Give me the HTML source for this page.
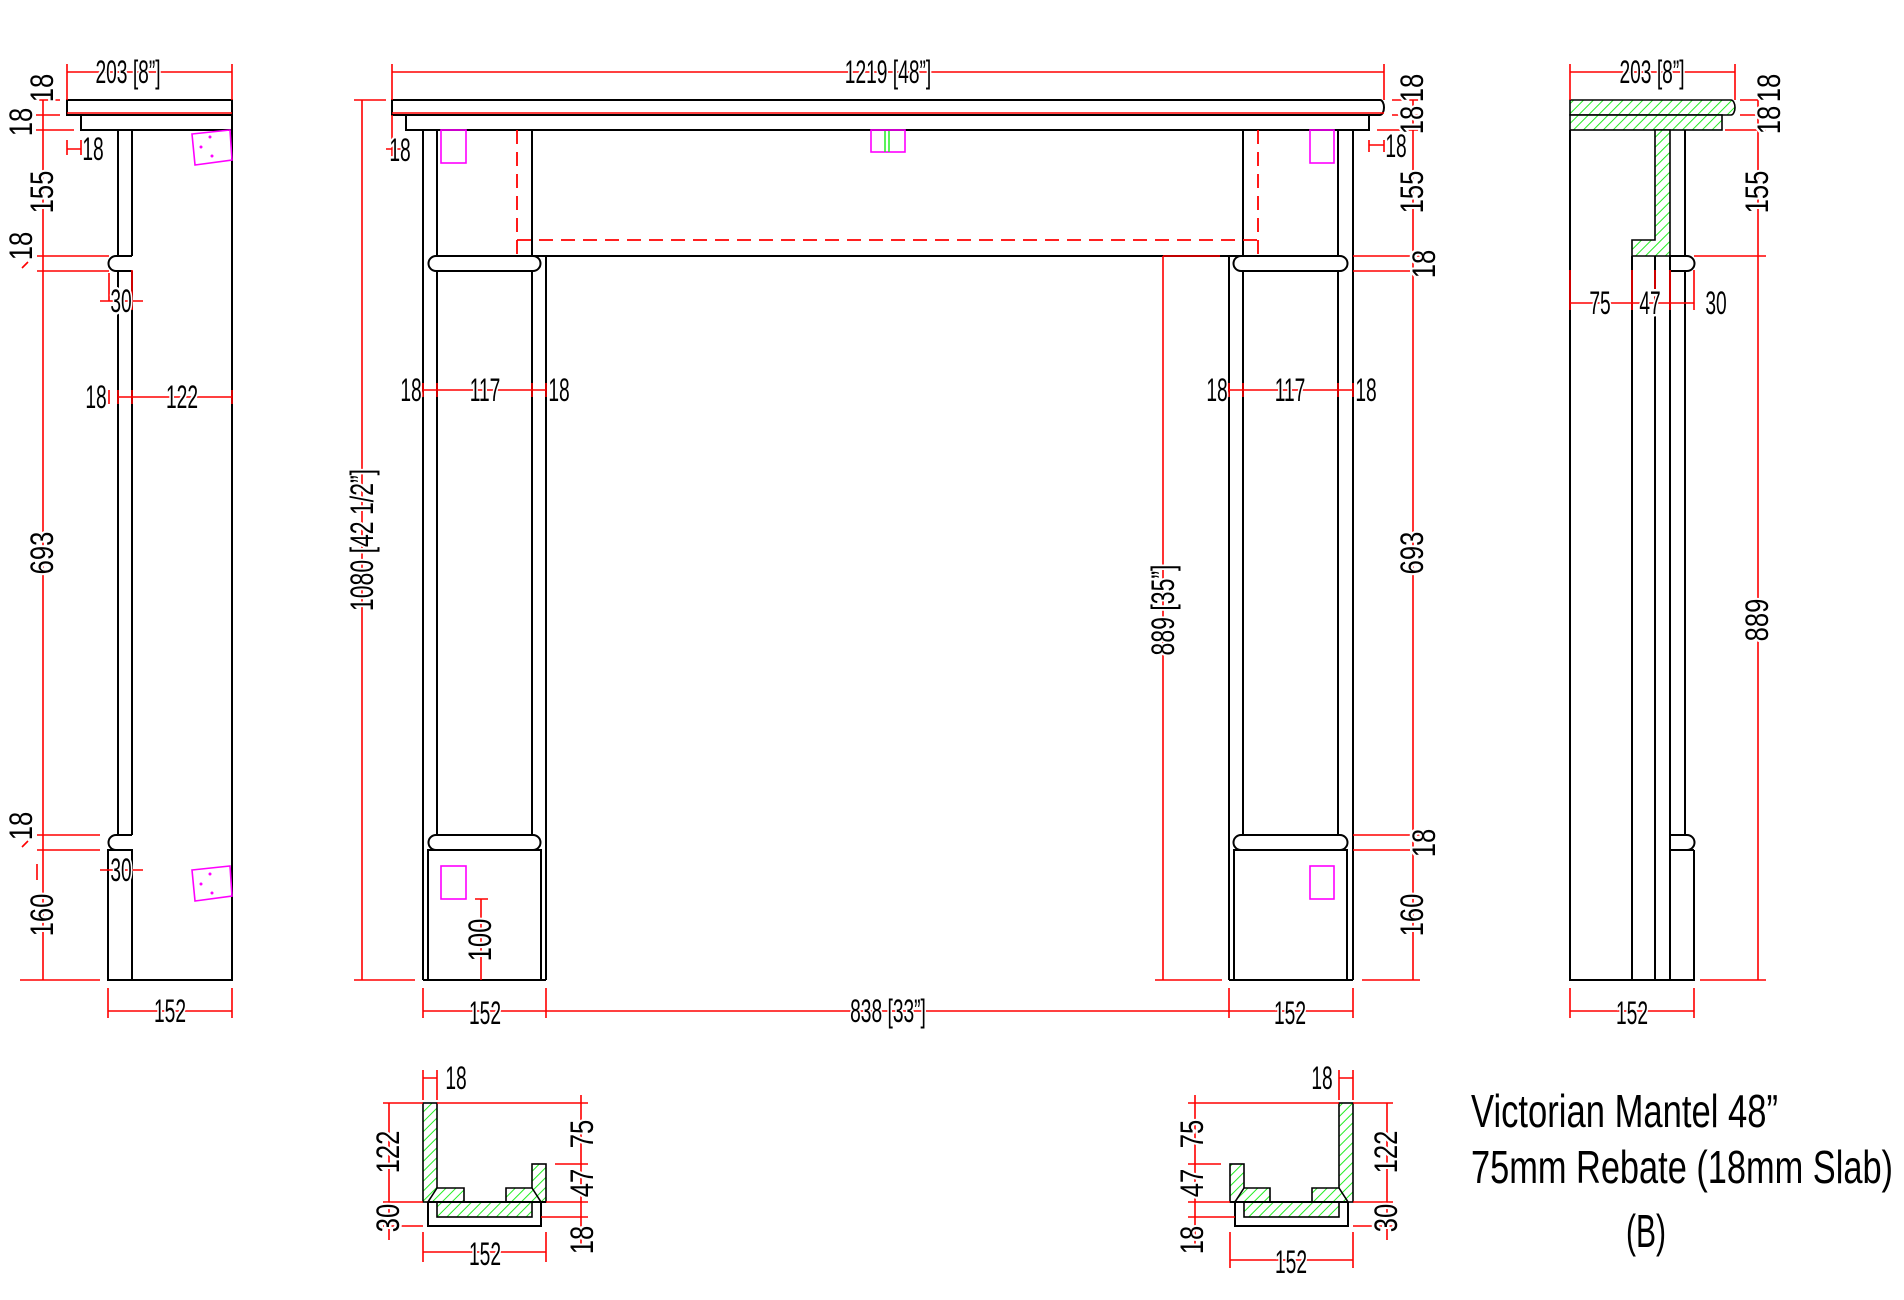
<!DOCTYPE html>
<html><head><meta charset="utf-8"><style>
html,body{margin:0;padding:0;background:#fff}
svg{display:block}
text{font-family:"Liberation Sans",sans-serif;font-size:32px;fill:#000;paint-order:stroke;stroke:#fff;stroke-width:5px;stroke-linejoin:round}
.k{stroke:#000;stroke-width:2;fill:none}
.r{stroke:#f00;stroke-width:1.6;fill:none}
.m{stroke:#f0f;stroke-width:1.6;fill:none}
.g{fill:url(#h);stroke:#000;stroke-width:1.6}
.t{font-size:46px;stroke:none}
</style></head><body>
<svg width="1904" height="1300" viewBox="0 0 1904 1300" xmlns="http://www.w3.org/2000/svg">
<defs>
<pattern id="h" width="7" height="7" patternUnits="userSpaceOnUse" patternTransform="rotate(45)">
<rect width="7" height="7" fill="#fff"/><line x1="0" y1="0" x2="0" y2="7" stroke="#2e2" stroke-width="2"/></pattern>
</defs>

<!-- ===== LEFT SIDE VIEW ===== -->
<g class="k">
<path d="M67 100H232V115H67Z"/>
<path d="M81 115H232V130H81Z"/>
<path d="M118 130V256M132 130V256M118 271V835M132 271V835"/>
<path d="M132 256H116A7.5 7.5 0 0 0 116 271H132"/>
<path d="M132 835H116A7.5 7.5 0 0 0 116 850H132"/>
<path d="M108 850H132V980H108Z"/>
<path d="M232 130V980H132"/>
</g>
<line x1="67" y1="113" x2="232" y2="113" stroke="#f00" stroke-width="1.6"/>
<g class="m"><path d="M192 134L230 130L232 160L195 165Z"/><path d="M192 870L230 866L232 896L195 901Z"/></g>
<g fill="#f0f"><circle cx="210" cy="137" r="1.5"/><circle cx="201" cy="147" r="1.5"/><circle cx="212" cy="156" r="1.5"/><circle cx="210" cy="874" r="1.5"/><circle cx="201" cy="884" r="1.5"/><circle cx="212" cy="893" r="1.5"/></g>
<g class="r">
<path d="M67 64V100M232 64V100M67 72H232M67 66V78M232 66V78"/>
<path d="M43 100V980M36 100H60M36 115H60M36 130H74M37 256H109M37 271H109M37 835H100M37 850H100M20 980H100"/>
<path d="M67 140V155M81 140V155M67 149H81"/>
<path d="M109 273V301M132 270V310M100 301H143"/>
<path d="M37 864V880M100 870H143"/>
<path d="M108 988V1018M232 988V1018M108 1011H232"/>
<path d="M109 390V404M118 390V404M132 390V404M232 390V404M118 397H232"/>
<path d="M22 268L28 262M22 847L28 841"/>
</g>
<text transform="translate(128,72) scale(.6,1)" text-anchor="middle" dominant-baseline="central">203 [8”]</text>
<text transform="translate(43,88) rotate(-90) scale(.8,1)" text-anchor="middle" dominant-baseline="central">18</text>
<text transform="translate(22,122) rotate(-90) scale(.8,1)" text-anchor="middle" dominant-baseline="central">18</text>
<text transform="translate(93,149) scale(.6,1)" text-anchor="middle" dominant-baseline="central">18</text>
<text transform="translate(43,192) rotate(-90) scale(.8,1)" text-anchor="middle" dominant-baseline="central">155</text>
<text transform="translate(22,246) rotate(-90) scale(.8,1)" text-anchor="middle" dominant-baseline="central">18</text>
<text transform="translate(121,301) scale(.6,1)" text-anchor="middle" dominant-baseline="central">30</text>
<text transform="translate(96,397) scale(.6,1)" text-anchor="middle" dominant-baseline="central">18</text>
<text transform="translate(182,397) scale(.6,1)" text-anchor="middle" dominant-baseline="central">122</text>
<text transform="translate(43,553) rotate(-90) scale(.8,1)" text-anchor="middle" dominant-baseline="central">693</text>
<text transform="translate(22,826) rotate(-90) scale(.8,1)" text-anchor="middle" dominant-baseline="central">18</text>
<text transform="translate(121,870) scale(.6,1)" text-anchor="middle" dominant-baseline="central">30</text>
<text transform="translate(43,915) rotate(-90) scale(.8,1)" text-anchor="middle" dominant-baseline="central">160</text>
<text transform="translate(170,1011) scale(.6,1)" text-anchor="middle" dominant-baseline="central">152</text>

<!-- ===== FRONT VIEW ===== -->
<g class="k">
<path d="M392 100H1380A4 7.5 0 0 1 1380 115H392Z"/>
<path d="M406 115H1369V130H406Z"/>
<path d="M423 130V980M437 130V256M437 271V835M532 130V256M532 271V835M546 256V980M532 256H1243"/>
<path d="M1229 256V980M1243 130V256M1243 271V835M1338 130V256M1338 271V835M1353 130V980"/>
<path d="M436 256H533A7.5 7.5 0 0 1 533 271H436A7.5 7.5 0 0 1 436 256Z"/>
<path d="M1241 256H1340A7.5 7.5 0 0 1 1340 271H1241A7.5 7.5 0 0 1 1241 256Z"/>
<path d="M436 835H533A7.5 7.5 0 0 1 533 850H436A7.5 7.5 0 0 1 436 835Z"/>
<path d="M1241 835H1340A7.5 7.5 0 0 1 1340 850H1241A7.5 7.5 0 0 1 1241 835Z"/>
<path d="M428 850H541V980H428Z"/>
<path d="M1234 850H1347V980H1234Z"/>
<path d="M423 980H546M1229 980H1353"/>
</g>
<line x1="392" y1="113" x2="1384" y2="113" stroke="#f00" stroke-width="1.6"/>
<path d="M517 130V256M517 240H1258M1258 130V256" stroke="#f00" stroke-width="1.8" fill="none" stroke-dasharray="14,8"/>
<g class="m">
<rect x="441" y="130" width="25" height="33"/><rect x="871" y="130" width="34" height="22"/><rect x="1310" y="130" width="24" height="33"/>
<rect x="441" y="866" width="25" height="33"/><rect x="1310" y="866" width="24" height="33"/>
</g>
<path d="M885 131V152M889 131V152" stroke="#2e2" stroke-width="1.5"/>
<g class="r">
<path d="M392 64V100M1384 64V100M392 72H1384M392 66V78M1384 66V78"/>
<path d="M362 100V980M354 100H386M354 980H415M356 100H368M356 980H368"/>
<path d="M392 115V160M386 149H406"/>
<path d="M423 383V397M437 383V397M532 383V397M546 383V397M423 390H546"/>
<path d="M1229 383V397M1243 383V397M1338 383V397M1353 383V397M1229 390H1353"/>
<path d="M481 899V980M475 899H488"/>
<path d="M1163 256V980M1163 256H1220M1155 980H1222"/>
<path d="M1413 100V980M1392 100H1420M1392 115H1420M1377 130H1420M1353 256H1420M1353 271H1420M1353 835H1420M1353 850H1420M1362 980H1420"/>
<path d="M1369 140V152M1384 140V152M1369 145H1384"/>
<path d="M423 988V1018M546 988V1018M1229 988V1018M1353 988V1018M423 1011H1353"/>
</g>
<text transform="translate(888,72) scale(.6,1)" text-anchor="middle" dominant-baseline="central">1219 [48”]</text>
<text transform="translate(362,540) rotate(-90) scale(.72,1)" text-anchor="middle" dominant-baseline="central">1080 [42 1/2”]</text>
<text transform="translate(400,150) scale(.6,1)" text-anchor="middle" dominant-baseline="central">18</text>
<text transform="translate(411,390) scale(.6,1)" text-anchor="middle" dominant-baseline="central">18</text>
<text transform="translate(485,390) scale(.6,1)" text-anchor="middle" dominant-baseline="central">117</text>
<text transform="translate(559,390) scale(.6,1)" text-anchor="middle" dominant-baseline="central">18</text>
<text transform="translate(1217,390) scale(.6,1)" text-anchor="middle" dominant-baseline="central">18</text>
<text transform="translate(1290,390) scale(.6,1)" text-anchor="middle" dominant-baseline="central">117</text>
<text transform="translate(1366,390) scale(.6,1)" text-anchor="middle" dominant-baseline="central">18</text>
<text transform="translate(481,940) rotate(-90) scale(.8,1)" text-anchor="middle" dominant-baseline="central">100</text>
<text transform="translate(1163,610) rotate(-90) scale(.72,1)" text-anchor="middle" dominant-baseline="central">889 [35”]</text>
<text transform="translate(1413,88) rotate(-90) scale(.8,1)" text-anchor="middle" dominant-baseline="central">18</text>
<text transform="translate(1413,120) rotate(-90) scale(.8,1)" text-anchor="middle" dominant-baseline="central">18</text>
<text transform="translate(1396,146) scale(.6,1)" text-anchor="middle" dominant-baseline="central">18</text>
<text transform="translate(1413,192) rotate(-90) scale(.8,1)" text-anchor="middle" dominant-baseline="central">155</text>
<text transform="translate(1425,264) rotate(-90) scale(.8,1)" text-anchor="middle" dominant-baseline="central">18</text>
<text transform="translate(1413,553) rotate(-90) scale(.8,1)" text-anchor="middle" dominant-baseline="central">693</text>
<text transform="translate(1425,843) rotate(-90) scale(.8,1)" text-anchor="middle" dominant-baseline="central">18</text>
<text transform="translate(1413,915) rotate(-90) scale(.8,1)" text-anchor="middle" dominant-baseline="central">160</text>
<text transform="translate(485,1013) scale(.6,1)" text-anchor="middle" dominant-baseline="central">152</text>
<text transform="translate(888,1011) scale(.6,1)" text-anchor="middle" dominant-baseline="central">838 [33”]</text>
<text transform="translate(1290,1013) scale(.6,1)" text-anchor="middle" dominant-baseline="central">152</text>

<!-- ===== RIGHT SIDE VIEW ===== -->
<path class="g" d="M1570 100H1731A4 7.5 0 0 1 1731 115H1570Z"/>
<rect class="g" x="1570" y="115" width="152" height="15"/>
<path class="g" d="M1655 130H1670V256H1632V240H1655Z"/>
<g class="k">
<path d="M1570 130V980H1694V850M1632 256V980M1655 256V980M1670 271V980M1685 130V256M1685 271V835"/>
<path d="M1670 256H1687A7.5 7.5 0 0 1 1687 271H1670Z"/>
<path d="M1670 835H1687A7.5 7.5 0 0 1 1687 850H1670Z"/>
<path d="M1670 850H1694"/>
</g>
<g class="r">
<path d="M1570 64V100M1735 64V100M1570 72H1735M1570 66V78M1735 66V78"/>
<path d="M1758 100V980M1740 100H1766M1740 115H1766M1725 130H1766M1694 256H1766M1700 980H1766"/>
<path d="M1570 270V310M1632 270V310M1655 270V310M1670 270V310M1694 270V310M1570 303H1694"/>
<path d="M1570 988V1018M1694 988V1018M1570 1011H1694"/>
</g>
<text transform="translate(1652,72) scale(.6,1)" text-anchor="middle" dominant-baseline="central">203 [8”]</text>
<text transform="translate(1770,88) rotate(-90) scale(.8,1)" text-anchor="middle" dominant-baseline="central">18</text>
<text transform="translate(1770,120) rotate(-90) scale(.8,1)" text-anchor="middle" dominant-baseline="central">18</text>
<text transform="translate(1758,192) rotate(-90) scale(.8,1)" text-anchor="middle" dominant-baseline="central">155</text>
<text transform="translate(1758,620) rotate(-90) scale(.8,1)" text-anchor="middle" dominant-baseline="central">889</text>
<text transform="translate(1600,303) scale(.6,1)" text-anchor="middle" dominant-baseline="central">75</text>
<text transform="translate(1650,303) scale(.6,1)" text-anchor="middle" dominant-baseline="central">47</text>
<text transform="translate(1716,303) scale(.6,1)" text-anchor="middle" dominant-baseline="central">30</text>
<text transform="translate(1632,1013) scale(.6,1)" text-anchor="middle" dominant-baseline="central">152</text>

<!-- ===== LEFT SECTION ===== -->
<g>
<rect class="g" x="423" y="1103" width="14" height="99"/>
<rect class="g" x="532" y="1164" width="14" height="38"/>
<path class="g" d="M437 1188H464V1202H428Z"/>
<path class="g" d="M506 1188H532L541 1202H506Z"/>
<rect class="g" x="437" y="1202" width="95" height="15"/>
<path class="k" d="M428 1202H546M428 1202V1226H541V1202"/>
</g>
<g class="r">
<path d="M383 1103H423M437 1103H588M389 1103V1240M383 1202H423M383 1226H423"/>
<path d="M581 1095V1250M555 1164H588M546 1202H588M541 1217H588"/>
<path d="M423 1070V1100M437 1070V1100M423 1078H437"/>
<path d="M423 1232V1262M546 1232V1262M423 1252H546"/>
</g>
<text transform="translate(456,1078) scale(.6,1)" text-anchor="middle" dominant-baseline="central">18</text>
<text transform="translate(389,1152) rotate(-90) scale(.8,1)" text-anchor="middle" dominant-baseline="central">122</text>
<text transform="translate(389,1218) rotate(-90) scale(.8,1)" text-anchor="middle" dominant-baseline="central">30</text>
<text transform="translate(583,1134) rotate(-90) scale(.8,1)" text-anchor="middle" dominant-baseline="central">75</text>
<text transform="translate(583,1183) rotate(-90) scale(.8,1)" text-anchor="middle" dominant-baseline="central">47</text>
<text transform="translate(583,1240) rotate(-90) scale(.8,1)" text-anchor="middle" dominant-baseline="central">18</text>
<text transform="translate(485,1254) scale(.6,1)" text-anchor="middle" dominant-baseline="central">152</text>

<!-- ===== RIGHT SECTION ===== -->
<g>
<rect class="g" x="1339" y="1103" width="14" height="99"/>
<rect class="g" x="1230" y="1164" width="14" height="38"/>
<path class="g" d="M1339 1188H1312V1202H1348Z"/>
<path class="g" d="M1270 1188H1244L1235 1202H1270Z"/>
<rect class="g" x="1244" y="1202" width="95" height="15"/>
<path class="k" d="M1230 1202H1348M1348 1202V1226H1235V1202"/>
</g>
<g class="r">
<path d="M1393 1103H1353M1339 1103H1188M1387 1103V1240M1393 1202H1353M1393 1226H1353"/>
<path d="M1195 1095V1250M1221 1164H1188M1230 1202H1188M1235 1217H1188"/>
<path d="M1353 1070V1100M1339 1070V1100M1339 1078H1353"/>
<path d="M1230 1232V1268M1353 1232V1268M1230 1260H1353"/>
</g>
<text transform="translate(1322,1078) scale(.6,1)" text-anchor="middle" dominant-baseline="central">18</text>
<text transform="translate(1387,1152) rotate(-90) scale(.8,1)" text-anchor="middle" dominant-baseline="central">122</text>
<text transform="translate(1387,1218) rotate(-90) scale(.8,1)" text-anchor="middle" dominant-baseline="central">30</text>
<text transform="translate(1193,1134) rotate(-90) scale(.8,1)" text-anchor="middle" dominant-baseline="central">75</text>
<text transform="translate(1193,1183) rotate(-90) scale(.8,1)" text-anchor="middle" dominant-baseline="central">47</text>
<text transform="translate(1193,1240) rotate(-90) scale(.8,1)" text-anchor="middle" dominant-baseline="central">18</text>
<text transform="translate(1291,1262) scale(.6,1)" text-anchor="middle" dominant-baseline="central">152</text>

<!-- ===== TITLE ===== -->
<text class="t" x="1471" y="1127" textLength="307" lengthAdjust="spacingAndGlyphs">Victorian Mantel 48”</text>
<text class="t" x="1471" y="1183" textLength="422" lengthAdjust="spacingAndGlyphs">75mm Rebate (18mm Slab)</text>
<text class="t" x="1626" y="1247" textLength="40" lengthAdjust="spacingAndGlyphs">(B)</text>
</svg>
</body></html>
